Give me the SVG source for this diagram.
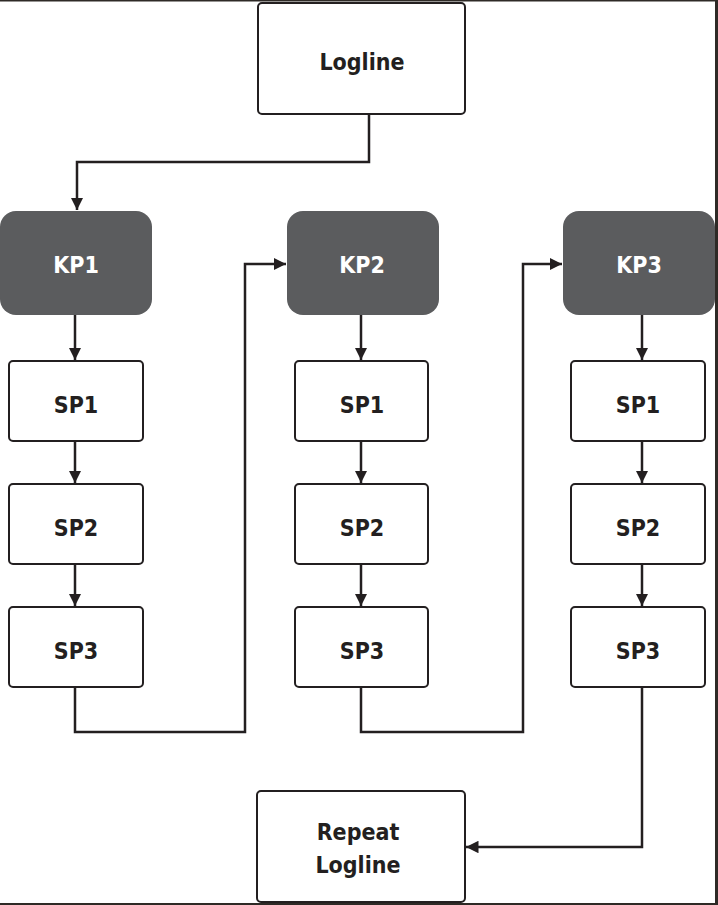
<svg xmlns="http://www.w3.org/2000/svg" width="718" height="905" viewBox="0 0 718 905">
  <style>
    .box { fill: #ffffff; stroke: #231f20; stroke-width: 2; }
    .kp { fill: #5b5c5e; stroke: none; }
    .lbl { font-family: "DejaVu Sans Condensed", "DejaVu Sans", "Liberation Sans", sans-serif; font-weight: bold; font-size: 23px; fill: #231f20; text-anchor: middle; }
    .kpl { fill: #ffffff; }
    .wire { fill: none; stroke: #231f20; stroke-width: 2.5; }
  </style>
  <defs>
    <marker id="arrow" viewBox="0 0 10 10" refX="10" refY="5" markerWidth="5" markerHeight="5" orient="auto" markerUnits="strokeWidth">
      <path d="M0,0 L10,5 L0,10 Z" fill="#231f20"/>
    </marker>
  </defs>

  <rect x="0" y="0" width="718" height="905" fill="#ffffff"/>
  <!-- frame edges -->
  <rect x="0" y="0" width="718" height="1.5" fill="#2e2a26"/>
  <rect x="715" y="0" width="3" height="905" fill="#2e2a26"/>
  <rect x="0" y="903" width="718" height="2" fill="#2e2a26"/>

  <g id="connectors">
    <path class="wire" d="M369,115 V162 H77 V210" marker-end="url(#arrow)"/>
    <path class="wire" d="M75,315 V360" marker-end="url(#arrow)"/>
    <path class="wire" d="M75,442 V483" marker-end="url(#arrow)"/>
    <path class="wire" d="M75,565 V606" marker-end="url(#arrow)"/>
    <path class="wire" d="M75,688 V732 H245 V264 H286" marker-end="url(#arrow)"/>
    <path class="wire" d="M361,315 V360" marker-end="url(#arrow)"/>
    <path class="wire" d="M361,442 V483" marker-end="url(#arrow)"/>
    <path class="wire" d="M361,565 V606" marker-end="url(#arrow)"/>
    <path class="wire" d="M361,688 V732 H523 V264 H562" marker-end="url(#arrow)"/>
    <path class="wire" d="M642,315 V360" marker-end="url(#arrow)"/>
    <path class="wire" d="M642,442 V483" marker-end="url(#arrow)"/>
    <path class="wire" d="M642,565 V606" marker-end="url(#arrow)"/>
    <path class="wire" d="M642,688 V847 H466" marker-end="url(#arrow)"/>
  </g>

  <g id="logline">
    <rect class="box" x="258" y="3" width="207" height="111" rx="4"/>
    <text class="lbl" x="362" y="70">Logline</text>
  </g>

  <g id="kp1">
    <rect class="kp" x="0" y="211" width="152" height="104" rx="16"/>
    <text class="lbl kpl" x="76" y="273">KP1</text>
  </g>
  <g id="kp2">
    <rect class="kp" x="287" y="211" width="152" height="104" rx="16"/>
    <text class="lbl kpl" x="362" y="273">KP2</text>
  </g>
  <g id="kp3">
    <rect class="kp" x="563" y="211" width="152" height="104" rx="16"/>
    <text class="lbl kpl" x="639" y="273">KP3</text>
  </g>

  <g id="sp1-a"><rect class="box" x="9" y="361" width="134" height="80" rx="4"/><text class="lbl" x="76" y="413">SP1</text></g>
  <g id="sp2-a"><rect class="box" x="9" y="484" width="134" height="80" rx="4"/><text class="lbl" x="76" y="536">SP2</text></g>
  <g id="sp3-a"><rect class="box" x="9" y="607" width="134" height="80" rx="4"/><text class="lbl" x="76" y="659">SP3</text></g>

  <g id="sp1-b"><rect class="box" x="295" y="361" width="133" height="80" rx="4"/><text class="lbl" x="362" y="413">SP1</text></g>
  <g id="sp2-b"><rect class="box" x="295" y="484" width="133" height="80" rx="4"/><text class="lbl" x="362" y="536">SP2</text></g>
  <g id="sp3-b"><rect class="box" x="295" y="607" width="133" height="80" rx="4"/><text class="lbl" x="362" y="659">SP3</text></g>

  <g id="sp1-c"><rect class="box" x="571" y="361" width="134" height="80" rx="4"/><text class="lbl" x="638" y="413">SP1</text></g>
  <g id="sp2-c"><rect class="box" x="571" y="484" width="134" height="80" rx="4"/><text class="lbl" x="638" y="536">SP2</text></g>
  <g id="sp3-c"><rect class="box" x="571" y="607" width="134" height="80" rx="4"/><text class="lbl" x="638" y="659">SP3</text></g>

  <g id="repeat-logline">
    <rect class="box" x="257" y="791" width="208" height="111" rx="4"/>
    <text class="lbl" x="358" y="840">Repeat</text>
    <text class="lbl" x="358" y="873">Logline</text>
  </g>
</svg>
